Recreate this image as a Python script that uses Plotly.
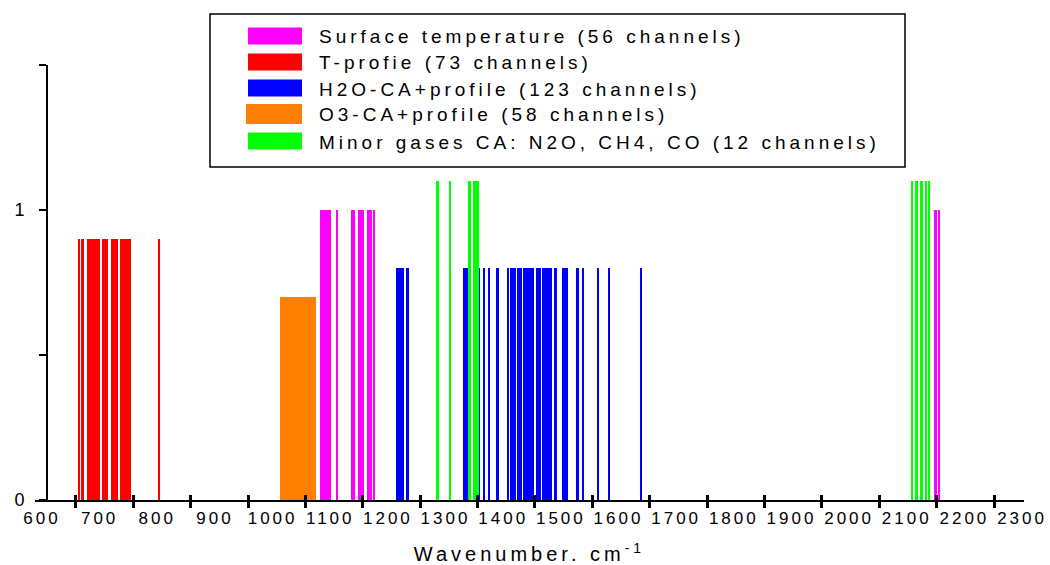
import plotly.graph_objects as go

# ---- data (wavenumber bands, cm-1) ----
series_names = [
    "Surface temperature (56 channels)",
    "T-profie (73 channels)",
    "H2O-CA+profile (123 channels)",
    "O3-CA+profile (58 channels)",
    "Minor gases CA: N2O, CH4, CO (12 channels)",
]
series_colors = ["#ff00ff", "#ff0000", "#0000ff", "#ff8000", "#00ff00"]
series_heights = [1.0, 0.9, 0.8, 0.7, 1.1]

surface_bands = [(1081.5, 1085), (1086.5, 1100.5), (1111, 1114), (1136.5, 1143),
                 (1147.5, 1159), (1164.5, 1173), (1175, 1178.5),
                 (2148, 2152), (2153.5, 2157.5)]
t_profile_bands = [(662.5, 665.5), (667.6, 673.4), (678.6, 701.1), (704, 715),
                   (720.2, 732.4), (735.3, 754.4), (802.5, 805)]
h2o_bands = [(1214.6, 1228.4), (1231.4, 1237), (1330.8, 1344.2), (1347, 1360),
             (1365.5, 1368.5), (1374, 1377), (1387, 1393), (1407, 1410.6),
             (1413, 1416.4), (1418.7, 1422), (1424, 1432), (1435, 1453),
             (1457.4, 1465.6), (1467.8, 1485.2), (1489, 1493), (1501.5, 1513),
             (1526, 1531.5), (1536, 1539.6), (1563, 1566), (1582.3, 1585.8),
             (1637.8, 1641.3)]
o3_bands = [(1013.4, 1074.8)]
minor_bands = [(1285, 1288), (1307, 1310), (1340.5, 1343.5), (1348, 1357.5),
               (2107, 2111), (2115, 2119), (2123, 2127.5), (2131, 2135), (2136.5, 2140)]

series_bands = [surface_bands, t_profile_bands, h2o_bands, o3_bands, minor_bands]

x_label_vals = list(range(600, 2301, 100))
x_tick_labels = [str(v) for v in x_label_vals]
y_tick_vals = [0, 1]
y_tick_text = ["0", "1"]

# ---- figure ----
W, H = 1050, 565
ML, MR, MT, MB = 35, 26, 65, 65
FONT = "Liberation Sans, Arial, sans-serif"
XR = [587.9, 2303.4]
YAXIS_PX = 47

fig = go.Figure()
draw_order = [3, 1, 0, 2, 4]
for i in draw_order:
    bands = series_bands[i]
    fig.add_trace(go.Bar(
        x=[(a + b) / 2 for a, b in bands],
        width=[b - a for a, b in bands],
        y=[series_heights[i]] * len(bands),
        base=0,
        marker=dict(color=series_colors[i], line=dict(width=0)),
        name=series_names[i],
        showlegend=False,
        hoverinfo="skip",
    ))

# invisible anchor traces so that the overlay axes (labels / inner ticks) get drawn
for ax in ["x2", "x3"]:
    fig.add_trace(go.Scatter(x=[x_label_vals[0]], y=[0], xaxis=ax, yaxis="y",
                             mode="markers", marker=dict(opacity=0, size=1),
                             showlegend=False, hoverinfo="skip"))

# legend drawn as shapes + annotations (pixel layout converted to paper)
pw, ph = W - ML - MR, H - MT - MB
def px2x(px):
    return (px - ML) / pw
def py2y(py):
    return (H - MB - py) / ph

shapes = [dict(type="rect", xref="paper", yref="paper",
               x0=px2x(210), x1=px2x(905), y0=py2y(167), y1=py2y(14),
               line=dict(color="black", width=1.5), fillcolor="white", layer="above")]
annotations = []
row_y = [36, 62, 88, 114, 141]
for k in range(5):
    hh = 10 if k == 3 else 8.5
    x0 = 246 if k == 3 else 248
    shapes.append(dict(type="rect", xref="paper", yref="paper",
                       x0=px2x(x0), x1=px2x(302), y0=py2y(row_y[k] + hh), y1=py2y(row_y[k] - hh),
                       line=dict(width=0), fillcolor=series_colors[k], layer="above"))
    annotations.append(dict(xref="paper", yref="paper", x=px2x(317), y=py2y(row_y[k] + 1),
                            xanchor="left", yanchor="middle", showarrow=False,
                            text=series_names[k], font=dict(family=FONT, size=19, color="black")))

fig.update_layout(
    width=W, height=H,
    margin=dict(l=ML, r=MR, t=MT, b=MB, autoexpand=False),
    paper_bgcolor="white", plot_bgcolor="white",
    barmode="overlay", bargap=0,
    shapes=shapes, annotations=annotations,
    font=dict(family=FONT, color="black"),
    xaxis=dict(range=XR, showgrid=False, zeroline=False, automargin=False,
               showline=True, linecolor="black", linewidth=2,
               tickmode="linear", tick0=658.9, dtick=99.53,
               ticks="outside", ticklen=6, tickwidth=2.5, tickcolor="black",
               showticklabels=False,
               title=dict(text="Wavenumber. cm<sup>-1</sup>", font=dict(size=20), standoff=40)),
    xaxis2=dict(range=XR, overlaying="x", anchor="y", side="bottom", automargin=False,
                showgrid=False, zeroline=False, showline=False,
                tickmode="array", tickvals=x_label_vals, ticktext=x_tick_labels,
                ticks="", tickfont=dict(size=17), ticklabelstandoff=6),
    xaxis3=dict(range=XR, overlaying="x", anchor="y", side="bottom", automargin=False,
                showgrid=False, zeroline=False, showline=False,
                tickmode="linear", tick0=658.9, dtick=99.53,
                ticks="inside", ticklen=5, tickwidth=2.5, tickcolor="black",
                showticklabels=False),
    yaxis=dict(range=[0, 1.5001], showgrid=False, zeroline=False, automargin=False,
               anchor="free", position=(YAXIS_PX - ML) / pw,
               showline=True, linecolor="black", linewidth=2,
               tickmode="array", tickvals=y_tick_vals, ticktext=y_tick_text,
               ticks="outside", ticklen=7, tickwidth=2, tickcolor="black",
               minor=dict(ticks="outside", dtick=0.5, tick0=0, ticklen=7,
                          tickwidth=2, tickcolor="black", showgrid=False),
               tickfont=dict(size=18), ticklabelstandoff=8),
)

post = """
document.body.style.margin = '0';
var gd = document.getElementById('{plot_id}');
function ls(){
  gd.querySelectorAll('text').forEach(function(t){
    if (!t.textContent || !t.textContent.trim()) { t.remove(); return; }
    if (t.getAttribute('data-ls')) return;
    var isTick = t.closest('.xtick, .ytick, .x2tick');
    if (t.classList.contains('annotation-text')) {
      var bb = t.getBBox();
      t.setAttribute('text-anchor', 'start');
      t.setAttribute('x', bb.x);
    }
    t.style.letterSpacing = isTick ? '3px' : '4px';
    t.setAttribute('data-ls', '1');
  });
}
ls();
if (gd.on) { gd.on('plotly_afterplot', ls); }
setTimeout(ls, 50);
"""
fig.write_html("out.html", post_script=post, config={"displayModeBar": False})
